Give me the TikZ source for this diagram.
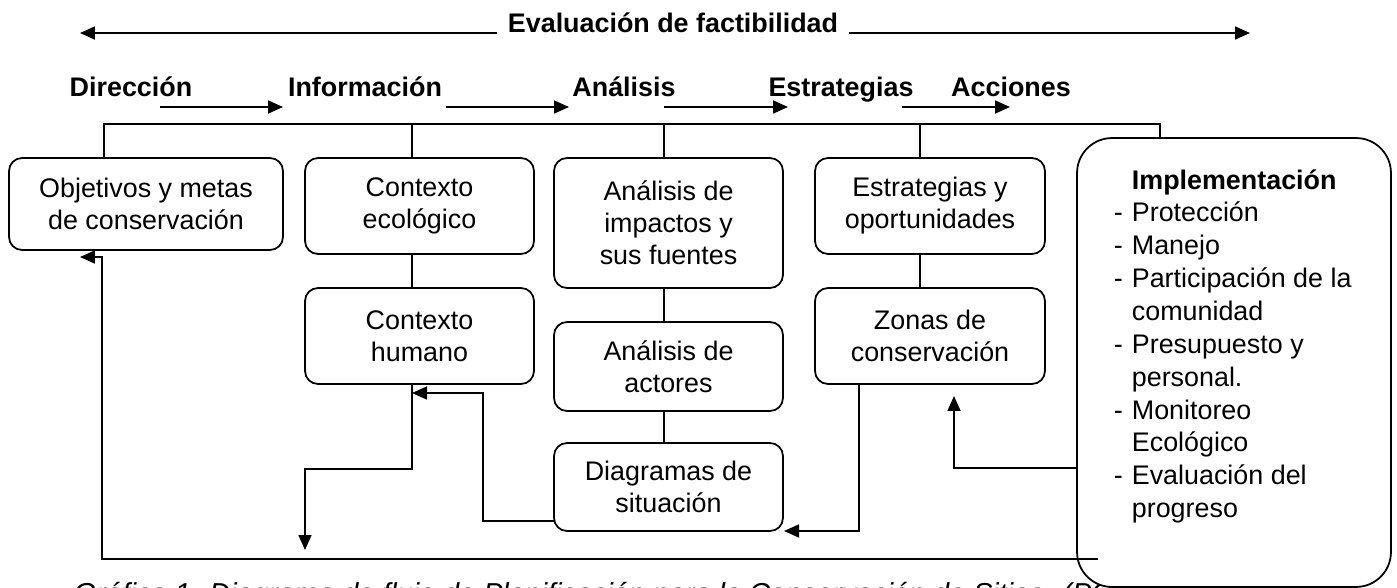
\documentclass[tikz,border=0pt]{standalone}
\usepackage{fontspec}
\setmainfont{Liberation Sans}
\usepackage{tikz}
\usetikzlibrary{arrows.meta}

\begin{document}
\begin{tikzpicture}[x=0.02cm,y=-0.02cm,line width=1pt,
    arr/.style={-{Triangle[length=0.3cm,width=0.26cm]}},
    box/.style={draw,rounded corners=0.26cm,inner sep=0pt,align=center,
      font=\fontsize{15.3}{18.2}\selectfont},
    stage/.style={anchor=base,inner sep=0pt,font=\fontsize{15.3}{18.2}\selectfont\bfseries}]
  \useasboundingbox (0,0) rectangle (1397,588);

  \node[anchor=base,inner xsep=0.2cm,inner ysep=0pt,font=\fontsize{15.3}{18.2}\selectfont\bfseries] (eval) at (673,33) {Evaluación de factibilidad};
  \coordinate (evL) at (80,33);
  \coordinate (evR) at (1250,33);
  \draw[arr] (eval.base west) -- (evL);
  \draw[arr] (eval.base east) -- (evR);

  \node[stage] (dir) at (131,97) {Dirección};
  \node[stage] (inf) at (365,97) {Información};
  \node[stage] (ana) at (624,97) {Análisis};
  \node[stage] (est) at (841,97) {Estrategias};
  \node[stage] (acc) at (1011,97) {Acciones};

  \coordinate (s1a) at (160,107);
  \coordinate (s1b) at (283,107);
  \coordinate (s2a) at (446,107);
  \coordinate (s2b) at (569,107);
  \coordinate (s3a) at (664,107);
  \coordinate (s3b) at (788,107);
  \coordinate (s4a) at (902,107);
  \coordinate (s4b) at (1010,107);
  \draw[arr] (s1a) -- (s1b);
  \draw[arr] (s2a) -- (s2b);
  \draw[arr] (s3a) -- (s3b);
  \draw[arr] (s4a) -- (s4b);

  \node[box,minimum width=5.48cm,minimum height=1.84cm] (obj) at (146,204) {Objetivos y metas\\de conservación};
  \node[box,minimum width=4.58cm,minimum height=1.92cm] (ecol) at (419.5,206) {Contexto\\ecológico};
  \node[box,minimum width=4.58cm,minimum height=1.92cm] (hum) at (419.5,336) {Contexto\\humano};
  \node[box,minimum width=4.58cm,minimum height=2.6cm] (imp) at (668.5,223) {Análisis de\\impactos y\\sus fuentes};
  \node[box,minimum width=4.58cm,minimum height=1.78cm] (act) at (668.5,366.5) {Análisis de\\actores};
  \node[box,minimum width=4.58cm,minimum height=1.76cm] (diag) at (668.5,487) {Diagramas de\\situación};
  \node[box,minimum width=4.6cm,minimum height=1.92cm] (estr) at (930,206) {Estrategias y\\oportunidades};
  \node[box,minimum width=4.6cm,minimum height=1.92cm] (zon) at (930,336) {Zonas de\\conservación};

  \node[anchor=base west,inner sep=0pt,font=\fontsize{16.4}{19.6}\selectfont\itshape] (cap) at (73,603) {Gráfico 1. Diagrama de flujo de Planificación para la Conservación de Sitios. (PCS)};

  \node[draw,fill=white,rounded corners=0.7cm,minimum width=6.28cm,minimum height=8.98cm] (impl) at (1234,362.5) {};
  \node[anchor=north west,inner sep=0pt,align=left,font=\fontsize{15.3}{18.7}\selectfont] (impltxt) at (1113,168.5)
    {\hspace*{0.36cm}\textbf{Implementación}\\
     \makebox[0.36cm][l]{-}Protección\\
     \makebox[0.36cm][l]{-}Manejo\\
     \makebox[0.36cm][l]{-}Participación de la\\
     \hspace*{0.36cm}comunidad\\
     \makebox[0.36cm][l]{-}Presupuesto y\\
     \hspace*{0.36cm}personal.\\
     \makebox[0.36cm][l]{-}Monitoreo\\
     \hspace*{0.36cm}Ecológico\\
     \makebox[0.36cm][l]{-}Evaluación del\\
     \hspace*{0.36cm}progreso};

  \coordinate (bA) at (104,124);
  \coordinate (bB) at (412,124);
  \coordinate (bC) at (664,124);
  \coordinate (bD) at (920,124);
  \coordinate (bE) at (1160,124);
  \draw (bA |- obj.north) -- (bA) -- (bE) -- (bE |- impl.north);
  \draw (bB) -- (bB |- ecol.north);
  \draw (bC) -- (bC |- imp.north);
  \draw (bD) -- (bD |- estr.north);
  \draw (bB |- ecol.south) -- (bB |- hum.north);
  \draw (bC |- imp.south) -- (bC |- act.north);
  \draw (bC |- act.south) -- (bC |- diag.north);
  \draw (bD |- estr.south) -- (bD |- zon.north);

  \coordinate (fbR) at (1098,559);
  \coordinate (fbT) at (80,257);
  \draw[arr] (fbR) -- ++(-996,0) |- (fbT);

  \coordinate (hD) at (305,550);
  \draw[arr] (bB |- hum.south) -- ++(0,84) -| (hD);

  \coordinate (dL) at (554,521);
  \coordinate (hT) at (412,393);
  \draw[arr] (dL) -- ++(-71,0) |- (hT);

  \coordinate (zB) at (859,384);
  \coordinate (dR) at (784,531);
  \draw[arr] (zB) |- (dR);

  \coordinate (iL) at (1077,468);
  \coordinate (zT) at (954,396);
  \draw[arr] (iL) -| (zT);
\end{tikzpicture}
\end{document}
